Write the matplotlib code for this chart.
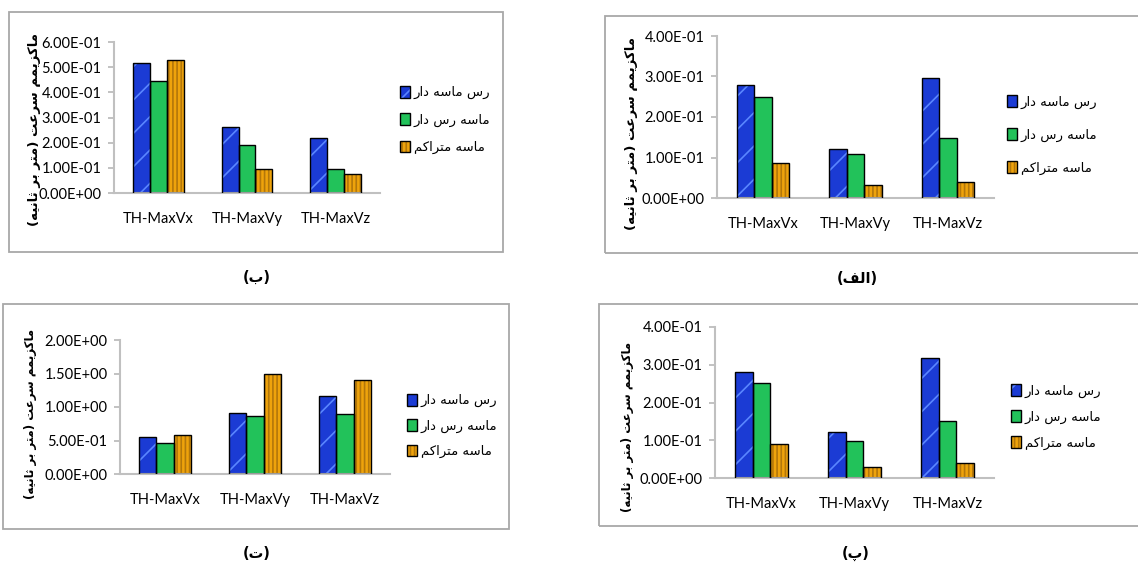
"""
Max velocity comparison, four soil profiles (panels alef, be, pe, te)
"""

import matplotlib
matplotlib.use("Agg")
import matplotlib.pyplot as plt
from matplotlib.patches import Patch, Rectangle
from matplotlib.legend_handler import HandlerTuple
import numpy as np

W, H = 1138, 562

categories = ["TH-MaxVx", "TH-MaxVy", "TH-MaxVz"]
series_names = ["رس ماسه دار", "ماسه رس دار", "ماسه متراکم"]
ylabel_text = "ماکزیمم سرعت (متر بر ثانیه)"

# panel (ب)
be_clay_sand = [0.517, 0.261, 0.217]
be_sand_clay = [0.446, 0.191, 0.095]
be_dense_sand = [0.528, 0.095, 0.077]

# panel (الف)
alef_clay_sand = [0.280, 0.122, 0.296]
alef_sand_clay = [0.250, 0.108, 0.147]
alef_dense_sand = [0.087, 0.031, 0.039]

# panel (ت)
te_clay_sand = [0.549, 0.908, 1.17]
te_sand_clay = [0.464, 0.873, 0.90]
te_dense_sand = [0.584, 1.50, 1.40]

# panel (پ)
pe_clay_sand = [0.282, 0.121, 0.318]
pe_sand_clay = [0.252, 0.098, 0.150]
pe_dense_sand = [0.089, 0.029, 0.041]

# face colour, hatch, hatch colour
bar_styles = [
    ("#1b3bd4", "/", "#5a86ff"),
    ("#22c25a", None, "#22c25a"),
    ("#eea30c", "||||", "#b3770a"),
]

# Persian presentation forms: isolated, final, initial, medial
FORMS = {
    "ا": ("\uFE8D", "\uFE8E", None, None),
    "ب": ("\uFE8F", "\uFE90", "\uFE91", "\uFE92"),
    "پ": ("\uFB56", "\uFB57", "\uFB58", "\uFB59"),
    "ت": ("\uFE95", "\uFE96", "\uFE97", "\uFE98"),
    "ث": ("\uFE99", "\uFE9A", "\uFE9B", "\uFE9C"),
    "د": ("\uFEA9", "\uFEAA", None, None),
    "ر": ("\uFEAD", "\uFEAE", None, None),
    "ز": ("\uFEAF", "\uFEB0", None, None),
    "س": ("\uFEB1", "\uFEB2", "\uFEB3", "\uFEB4"),
    "ع": ("\uFEC9", "\uFECA", "\uFECB", "\uFECC"),
    "ف": ("\uFED1", "\uFED2", "\uFED3", "\uFED4"),
    "ل": ("\uFEDD", "\uFEDE", "\uFEDF", "\uFEE0"),
    "م": ("\uFEE1", "\uFEE2", "\uFEE3", "\uFEE4"),
    "ن": ("\uFEE5", "\uFEE6", "\uFEE7", "\uFEE8"),
    "ه": ("\uFEE9", "\uFEEA", "\uFEEB", "\uFEEC"),
    "ک": ("\uFB8E", "\uFB8F", "\uFB90", "\uFB91"),
    "ی": ("\uFBFC", "\uFBFD", "\uFBFE", "\uFBFF"),
}


def rtl(text):
    """Shape Persian letters and put them in visual order."""
    out = []
    for i, ch in enumerate(text):
        if ch not in FORMS:
            out.append(ch)
            continue
        prev = text[i - 1] if i > 0 else ""
        nxt = text[i + 1] if i + 1 < len(text) else ""
        iso, fin, ini, med = FORMS[ch]
        join_prev = prev in FORMS and FORMS[prev][2] is not None
        join_next = ini is not None and nxt in FORMS
        if join_prev and join_next:
            out.append(med)
        elif join_prev:
            out.append(fin)
        elif join_next:
            out.append(ini)
        else:
            out.append(iso)
    vis = "".join(reversed(out))
    return vis.translate(str.maketrans("()", ")("))


def fx(x):
    return x / W


def fy(y):
    return 1 - y / H


def draw_panel(fig, series, yticks, axes_px, box_px, legend_px, ylabel_px, caption, caption_px):
    x0, y0, x1, y1 = axes_px
    ax = fig.add_axes([fx(x0), fy(y1), (x1 - x0) / W, (y1 - y0) / H])

    bx0, by0, bx1, by1 = box_px
    fig.patches.append(Rectangle((fx(bx0), fy(by1)), (bx1 - bx0) / W, (by1 - by0) / H,
                                 transform=fig.transFigure, fill=False,
                                 edgecolor="#a8a8a8", linewidth=1.3, zorder=0))

    x = np.arange(len(categories))
    width = 0.19
    handles = []
    for i, (values, (face, hatch, hcol)) in enumerate(zip(series, bar_styles)):
        pos = x + (i - 1) * width
        ax.bar(pos, values, width, color=face, hatch=hatch, edgecolor=hcol, linewidth=0, zorder=2)
        ax.bar(pos, values, width, fill=False, edgecolor="black", linewidth=1.0, zorder=3)
        handles.append((Patch(facecolor=face, hatch=hatch, edgecolor=hcol, linewidth=0),
                        Patch(fill=False, edgecolor="black", linewidth=1.0)))

    ax.set_xlim(-0.5, 2.5)
    ax.set_ylim(0, yticks[-1])
    ax.set_yticks(yticks)
    ax.set_yticklabels(["{:.2E}".format(v) for v in yticks])
    ax.set_xticks(x)
    ax.set_xticklabels(categories)
    ax.tick_params(axis="x", length=0, pad=14, labelsize=10.5)
    ax.tick_params(axis="y", length=4, width=1.2, color="#b8b8b8", pad=5, labelsize=10.5)
    for side in ("top", "right"):
        ax.spines[side].set_visible(False)
    for side in ("left", "bottom"):
        ax.spines[side].set_color("#c0c0c0")
        ax.spines[side].set_linewidth(1.5)
    ax.patch.set_alpha(0)

    lx, ly, spacing = legend_px
    fig.legend(handles, [rtl(n) for n in series_names],
               handler_map={tuple: HandlerTuple(ndivide=1)},
               loc="center left", bbox_to_anchor=(fx(lx), fy(ly)),
               frameon=False, borderpad=0, borderaxespad=0,
               handlelength=0.75, handleheight=1.0, handletextpad=0.3,
               labelspacing=spacing, prop={"family": "DejaVu Sans", "size": 9.5})

    fig.text(fx(ylabel_px[0]), fy(ylabel_px[1]), rtl(ylabel_text), rotation=90,
             ha="center", va="center", family="DejaVu Sans", fontsize=ylabel_px[2],
             fontweight="bold")
    fig.text(fx(caption_px[0]), fy(caption_px[1]), rtl(caption), ha="center", va="center",
             family="DejaVu Sans", fontsize=10.5, fontweight="bold")
    return ax


plt.rcParams["font.family"] = ["Lato", "DejaVu Sans"]
plt.rcParams["hatch.linewidth"] = 1.2

fig = plt.figure(figsize=(W / 100, H / 100), dpi=100)
fig.patch.set_facecolor("white")

draw_panel(fig, [be_clay_sand, be_sand_clay, be_dense_sand], np.arange(0, 0.61, 0.1),
           (114, 42, 380, 193), (9, 12, 503, 252), (400, 120, 1.05),
           (35, 130, 9.5), "(ب)", (257, 277))

draw_panel(fig, [alef_clay_sand, alef_sand_clay, alef_dense_sand], np.arange(0, 0.41, 0.1),
           (717, 36, 994, 198), (605, 16, 1170, 253), (1007, 135, 1.45),
           (632, 133, 9.5), "(الف)", (857, 278))

draw_panel(fig, [te_clay_sand, te_sand_clay, te_dense_sand], np.arange(0, 2.01, 0.5),
           (120, 340, 390, 474), (3, 304, 509, 529), (407, 426, 0.9),
           (31, 414, 8.5), "(ت)", (257, 553))

draw_panel(fig, [pe_clay_sand, pe_sand_clay, pe_dense_sand], np.arange(0, 0.41, 0.1),
           (715, 327, 994, 478), (599, 304, 1170, 526), (1011, 417, 0.95),
           (628, 427, 8.5), "(پ)", (856, 553))

fig.savefig("out.png", dpi=100)
